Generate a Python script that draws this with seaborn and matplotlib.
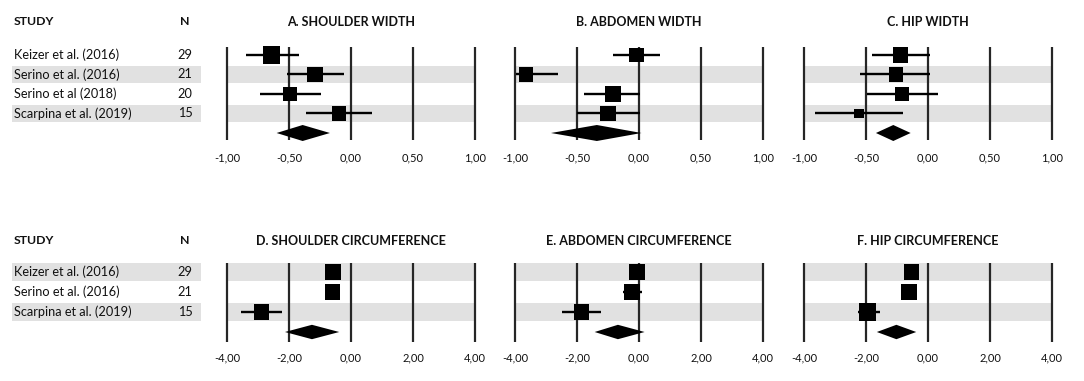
import numpy as np
import pandas as pd
import seaborn as sns
import matplotlib
matplotlib.use("Agg")
import matplotlib.pyplot as plt
from matplotlib.ticker import FuncFormatter

# ---------------- data ----------------
studies_width = ["Keizer et al. (2016)", "Serino et al. (2016)",
                 "Serino et al (2018)", "Scarpina et al. (2019)"]
n_width = [29, 21, 20, 15]
studies_circ = ["Keizer et al. (2016)", "Serino et al. (2016)",
                "Scarpina et al. (2019)"]
n_circ = [29, 21, 15]

# A. shoulder width
a_est = [-0.64, -0.29, -0.49, -0.10]
a_lo = [-0.85, -0.52, -0.73, -0.36]
a_hi = [-0.42, -0.06, -0.24, 0.17]
a_w = [29, 23, 20, 20]
a_pool = [-0.60, -0.39, -0.17]      # lower, estimate, upper

# B. abdomen width
b_est = [-0.02, -0.91, -0.21, -0.25]
b_lo = [-0.21, -0.99, -0.44, -0.50]
b_hi = [0.17, -0.65, 0.01, 0.01]
b_w = [22, 20, 23, 23]
b_pool = [-0.71, -0.34, 0.02]

# C. hip width
c_est = [-0.22, -0.26, -0.21, -0.56]
c_lo = [-0.45, -0.55, -0.49, -0.91]
c_hi = [0.02, 0.02, 0.08, -0.20]
c_w = [23, 21, 18, 10]
c_pool = [-0.42, -0.28, -0.14]

# D. shoulder circumference
d_est = [-0.59, -0.59, -2.90]
d_lo = [-0.75, -0.75, -3.54]
d_hi = [-0.43, -0.43, -2.23]
d_w = [26, 23, 23]
d_pool = [-2.13, -1.26, -0.38]

# E. abdomen circumference
e_est = [-0.05, -0.22, -1.86]
e_lo = [-0.20, -0.52, -2.48]
e_hi = [0.10, 0.11, -1.24]
e_w = [26, 25, 23]
e_pool = [-1.43, -0.68, 0.18]

# F. hip circumference
f_est = [-0.54, -0.61, -1.94]
f_lo = [-0.70, -0.76, -2.26]
f_hi = [-0.38, -0.46, -1.56]
f_w = [23, 26, 29]
f_pool = [-1.65, -1.02, -0.38]

# ---------------- style ----------------
W, H = 1084, 381
sns.set_theme(style="white")
plt.rcParams["font.family"] = ["Lato", "DejaVu Sans"]
TEXT = "#111111"
BAND = "#e1e1e1"
LINE = "#262626"

fig = plt.figure(figsize=(W / 100, H / 100), dpi=100)
fig.patch.set_facecolor("white")


def px_axes(left, top, width, height):
    return fig.add_axes([left / W, 1 - (top + height) / H, width / W, height / H])


def fmt_comma(v, _):
    return f"{v:.2f}".replace(".", ",")


def draw_table(ax, studies, ns, band_rows, ylim, header_y):
    ax.set_xlim(0, 210)
    ax.set_ylim(*ylim)
    ax.axis("off")
    for r in band_rows:
        ax.fill_between([12, 201], r - 0.46, r + 0.46, color=BAND, lw=0, zorder=0)
    for i, (s, n) in enumerate(zip(studies, ns)):
        ax.text(14, i, s, ha="left", va="center", fontsize=9.2, color=TEXT)
        ax.text(185, i, str(n), ha="center", va="center", fontsize=9.2, color=TEXT)
    ax.text(14, header_y, "STUDY", ha="left", va="center", fontsize=8.8,
            fontweight="bold", color=TEXT, clip_on=False)
    ax.text(185, header_y, "N", ha="center", va="center", fontsize=8.8,
            fontweight="bold", color=TEXT, clip_on=False)


def draw_forest(ax, title, est, lo, hi, w, pool, limit, band_rows, ylim,
                line_span, title_y, diamond_h, tick_pad):
    n = len(est)
    rows = np.arange(n)
    pad = limit * 6 / 124
    ax.set_xlim(-limit - pad, limit + pad)
    ax.set_ylim(*ylim)

    for r in band_rows:
        ax.fill_between([-limit, limit], r - 0.46, r + 0.46, color=BAND, lw=0, zorder=0)

    ticks = np.linspace(-limit, limit, 5)
    ax.vlines(ticks, line_span[0], line_span[1], color=LINE, lw=1.6, zorder=1)

    # confidence intervals
    ax.hlines(rows, lo, hi, color="black", lw=1.7, zorder=2)

    # study squares, area scaled by weight
    df = pd.DataFrame({"est": est, "row": rows, "w": w})
    sns.scatterplot(data=df, x="est", y="row", size="w", sizes=(0, 155),
                    size_norm=(0, 30), marker="s", color="black",
                    edgecolor="black", linewidth=0, legend=False, ax=ax, zorder=3)

    # pooled diamond
    p_lo, p_est, p_hi = pool
    ax.fill([p_lo, p_est, p_hi, p_est], [n, n - diamond_h, n, n + diamond_h],
            color="black", lw=0, zorder=3)

    ax.set_xticks(ticks)
    ax.xaxis.set_major_formatter(FuncFormatter(fmt_comma))
    ax.tick_params(axis="x", length=0, pad=tick_pad, labelsize=8, labelcolor=TEXT)
    ax.set_yticks([])
    ax.set_xlabel("")
    ax.set_ylabel("")
    sns.despine(ax=ax, left=True, bottom=True)
    ax.set_facecolor("none")
    ax.text(0, title_y, title, ha="center", va="center", fontsize=9,
            fontweight="bold", color=TEXT, clip_on=False)


# ---------------- top row: widths ----------------
top_ylim = ((143 - 55) / 19.5, (45 - 55) / 19.5)
top_span = ((47 - 55) / 19.5, (140 - 55) / 19.5)
top_title = (22 - 55) / 19.5

ax = px_axes(0, 45, 210, 98)
draw_table(ax, studies_width, n_width, [1, 3], top_ylim, top_title)

panels_top = [
    ("A. SHOULDER WIDTH", a_est, a_lo, a_hi, a_w, a_pool),
    ("B. ABDOMEN WIDTH", b_est, b_lo, b_hi, b_w, b_pool),
    ("C. HIP WIDTH", c_est, c_lo, c_hi, c_w, c_pool),
]
for left, (title, est, lo, hi, w, pool) in zip([221, 509, 798], panels_top):
    ax = px_axes(left, 45, 260, 98)
    draw_forest(ax, title, est, lo, hi, w, pool, 1.0, [1, 3], top_ylim,
                top_span, top_title, 0.41, 6.8)

# ---------------- bottom row: circumferences ----------------
bot_ylim = ((344 - 272) / 20, (261 - 272) / 20)
bot_span = ((263 - 272) / 20, (342 - 272) / 20)
bot_title = (241 - 272) / 20

ax = px_axes(0, 261, 210, 83)
draw_table(ax, studies_circ, n_circ, [0, 2], bot_ylim, bot_title)

panels_bot = [
    ("D. SHOULDER CIRCUMFERENCE", d_est, d_lo, d_hi, d_w, d_pool),
    ("E. ABDOMEN CIRCUMFERENCE", e_est, e_lo, e_hi, e_w, e_pool),
    ("F. HIP CIRCUMFERENCE", f_est, f_lo, f_hi, f_w, f_pool),
]
for left, (title, est, lo, hi, w, pool) in zip([221, 509, 798], panels_bot):
    ax = px_axes(left, 261, 260, 83)
    draw_forest(ax, title, est, lo, hi, w, pool, 4.0, [0, 2], bot_ylim,
                bot_span, bot_title, 0.36, 6.2)

fig.savefig("out.png", dpi=100, facecolor="white")
